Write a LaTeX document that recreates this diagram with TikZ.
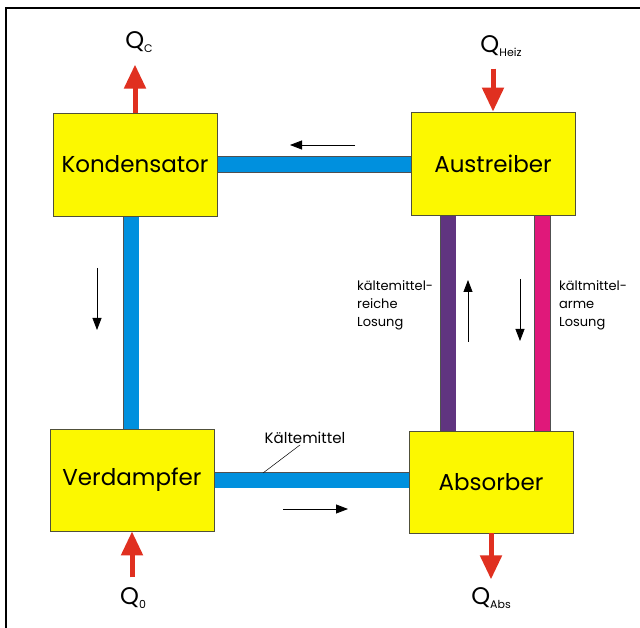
\documentclass[tikz,border=0pt]{standalone}
\usepackage{fontspec}
\setmainfont{Poppins}
\usetikzlibrary{arrows.meta,backgrounds}
\definecolor{boxyellow}{HTML}{FCF800}
\definecolor{boxedge}{HTML}{50503A}
\definecolor{pipeblue}{HTML}{0090DE}
\definecolor{pipepurple}{HTML}{603480}
\definecolor{pipemagenta}{HTML}{E0187A}
\definecolor{pipeedge}{HTML}{505050}
\definecolor{heatred}{HTML}{E03020}
\tikzset{
  unit/.style={draw=boxedge, line width=0.8pt, fill=boxyellow, minimum width=164pt, minimum height=103pt, inner sep=0pt, font=\fontsize{23}{23}\selectfont},
  pipe/.style={draw=pipeedge, line width=0.8pt, double=#1, double distance=15pt},
  heat/.style={draw=heatred, line width=5pt, -{Triangle[length=24pt,width=21pt]}},
  flow/.style={draw=black, line width=0.8pt, -{Triangle[length=12pt,width=9pt]}},
  qlabel/.style={inner sep=0pt},
  small/.style={font=\fontsize{13}{18}\selectfont, inner sep=0pt, align=left}
}
\newcommand{\Qsub}[1]{{\fontsize{24}{24}\selectfont Q}\raisebox{-4pt}{\fontsize{11}{11}\selectfont #1}}
\begin{document}
\begin{tikzpicture}[x=1pt,y=-1pt]
\useasboundingbox (0,0) rectangle (640,628);
% boxes
\node[unit] (kond) at (135,164.5) {Kondensator};
\node[unit] (aus) at (493,163.5) {Austreiber};
\node[unit, minimum height=102pt] (verd) at (132,480) {Verdampfer};
\node[unit, minimum height=102pt] (abs) at (491,482) {Absorber};
% pipes
\begin{scope}[on background layer]
\fill[white] (0,0) rectangle (640,628);
\draw[pipe=pipeblue] (kond.east) -- (kond.east -| aus.west);
\draw[pipe=pipeblue] ([xshift=-4pt]kond.south) -- ([xshift=-4pt]kond.south |- verd.north);
\draw[pipe=pipeblue] (verd.east) -- (verd.east -| abs.west);
\draw[pipe=pipepurple] ([xshift=-45pt]aus.south) -- ([xshift=-45pt]aus.south |- abs.north);
\draw[pipe=pipemagenta] ([xshift=49.5pt]aus.south) -- ([xshift=49.5pt]aus.south |- abs.north);
\end{scope}
% frame
\draw[line width=2.5pt] (6,640) -- (6,8) -- (650,8);
% heat arrows
\draw[heat] (kond.north) -- ++(0,-48);
\draw[heat] ([yshift=43pt]aus.north) -- (aus.north);
\draw[heat] ([yshift=-46pt]verd.south) -- (verd.south);
\draw[heat] (abs.south) -- ++(0,46);
\node[qlabel] (qc) at (139,42) {\Qsub{C}};
\node[qlabel] (qh) at (501,46) {\Qsub{Heiz}};
\node[qlabel] (q0) at (133,598) {\Qsub{0}};
\node[qlabel] (qa) at (491,598) {\Qsub{Abs}};
% flow arrows
\coordinate (f1a) at (355,145); \coordinate (f1b) at (290,145);
\coordinate (f2a) at (97,268);  \coordinate (f2b) at (97,330);
\coordinate (f3a) at (283,509); \coordinate (f3b) at (348,509);
\coordinate (f4a) at (468,342); \coordinate (f4b) at (468,280);
\coordinate (f5a) at (520,279); \coordinate (f5b) at (520,341);
\draw[flow] (f1a) -- (f1b);
\draw[flow] (f2a) -- (f2b);
\draw[flow] (f3a) -- (f3b);
\draw[flow] (f4a) -- (f4b);
\draw[flow] (f5a) -- (f5b);
% labels
\node[small, anchor=north west] (reich) at (357,280) {kältemittel-\\reiche\\Losung};
\node[small, anchor=north west] (arm) at (559,280) {kältmittel-\\arme\\Losung};
\node[small, font=\fontsize{15}{18}\selectfont] (kaelt) at (305,438) {Kältemittel};
\coordinate (lead) at (263,473);
\draw[line width=0.5pt] ([xshift=-5pt,yshift=-1pt]kaelt.south) -- (lead);
\end{tikzpicture}
\end{document}
